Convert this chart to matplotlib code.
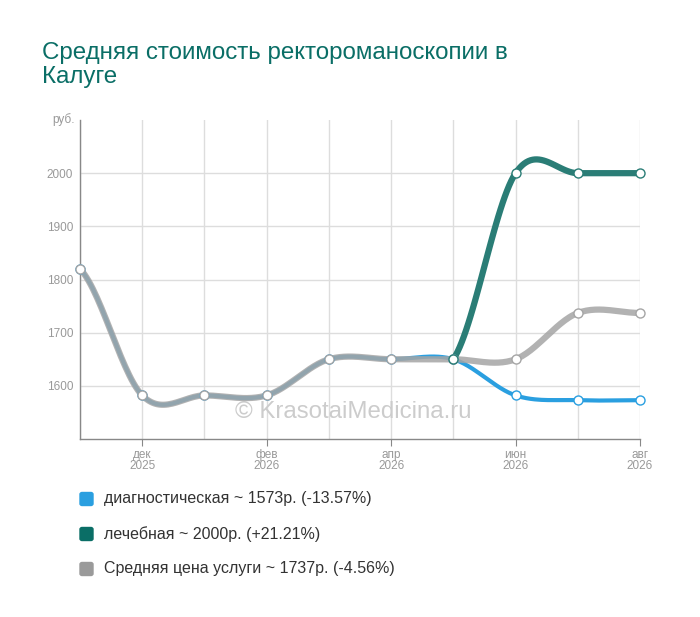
import numpy as np
import matplotlib.pyplot as plt
from matplotlib.patches import FancyBboxPatch

plt.rcParams["font.family"] = ["Liberation Sans", "DejaVu Sans"]

# months from Nov 2025 to Aug 2026
month_labels = ["", "дек\n2025", "", "фев\n2026", "", "апр\n2026", "", "июн\n2026", "", "авг\n2026"]
diag = [1820, 1582, 1582, 1582, 1650, 1650, 1650, 1582, 1573, 1573]
treat = [None, None, None, None, None, None, 1650, 2000, 2000, 2000]
avg = [1820, 1582, 1582, 1582, 1650, 1650, 1650, 1650, 1737, 1737]

legend_labels = [
    "диагностическая ~ 1573р. (-13.57%)",
    "лечебная ~ 2000р. (+21.21%)",
    "Средняя цена услуги ~ 1737р. (-4.56%)",
]
colors = ["#2a9fe0", "#0a6e66", "#9a9a9a"]
y_ticks = [1600, 1700, 1800, 1900, 2000]


def catmull_rom(xs, ys, n=30):
    """Smooth curve through the points (Catmull-Rom)."""
    xs = np.asarray(xs, float)
    ys = np.asarray(ys, float)
    px = np.concatenate([[2 * xs[0] - xs[1]], xs, [2 * xs[-1] - xs[-2]]])
    py = np.concatenate([[ys[0]], ys, [ys[-1]]])
    out_x, out_y = [], []
    t = np.linspace(0, 1, n)
    for i in range(1, len(px) - 2):
        for p, out in ((px, out_x), (py, out_y)):
            p0, p1, p2, p3 = p[i - 1], p[i], p[i + 1], p[i + 2]
            out.extend(
                0.5 * ((2 * p1) + (-p0 + p2) * t
                       + (2 * p0 - 5 * p1 + 4 * p2 - p3) * t ** 2
                       + (-p0 + 3 * p1 - 3 * p2 + p3) * t ** 3)
            )
    return np.array(out_x), np.array(out_y)


fig = plt.figure(figsize=(7, 6.17), dpi=100)
ax = fig.add_axes([0.1143, 0.2885, 0.8, 0.517])

line_colors = ["#2a9fe0", "#2a7d76", "#a5a5a5"]
series = [(diag, 0, 3.0, 1.0), (avg, 2, 4.5, 0.85), (treat, 1, 4.5, 1.0)]
for vals, ci, lw, alpha in series:
    idx = [i for i, v in enumerate(vals) if v is not None]
    yv = [vals[i] for i in idx]
    sx, sy = catmull_rom(idx, yv)
    ax.plot(sx, sy, color=line_colors[ci], lw=lw, alpha=alpha,
            solid_capstyle="round", zorder=3)
    ax.plot(idx, yv, "o", ms=6.5, mfc="white", mec=line_colors[ci], mew=1.0,
            zorder=4, clip_on=False)

ax.set_xlim(0, len(month_labels) - 1)
ax.set_ylim(1500, 2100)
ax.set_xticks(range(len(month_labels)))
ax.set_xticklabels(month_labels, fontsize=8.5, color="#999999", linespacing=0.95)
ax.set_yticks(y_ticks)
ax.set_yticklabels([str(v) for v in y_ticks], fontsize=8.5, color="#999999")
ax.tick_params(axis="x", length=5, color="#888888", pad=2)
ax.tick_params(axis="y", length=0, pad=5)
for lbl, tk in zip(month_labels, ax.xaxis.get_major_ticks()):
    if not lbl:
        tk.tick1line.set_visible(False)

ax.grid(True, color="#dddddd", lw=1, zorder=0)
for side in ("top", "right"):
    ax.spines[side].set_visible(False)
for side in ("left", "bottom"):
    ax.spines[side].set_color("#888888")
    ax.spines[side].set_linewidth(1)

ax.text(-0.01, 1.0, "руб.", transform=ax.transAxes, ha="right", va="center",
        fontsize=8.5, color="#999999")
ax.text(0.488, 0.085, "© KrasotaiMedicina.ru", transform=ax.transAxes, ha="center",
        va="center", fontsize=17.3, color="#cccccc", zorder=2)

fig.text(0.06, 1 - 65 / 617, "Средняя стоимость ректороманоскопии в\nКалуге", ha="left",
         va="center", fontsize=17.4, color="#0a6e66", linespacing=1.12)

for k, (lab, col) in enumerate(zip(legend_labels, colors)):
    yy = 1 - (499 + 35 * k) / 617
    fig.patches.append(FancyBboxPatch((80 / 700, yy - 6.5 / 617), 13 / 700, 13 / 617,
                                      boxstyle="round,pad=0,rounding_size=0.003",
                                      transform=fig.transFigure, color=col))
    fig.text(104 / 700, yy, lab, ha="left", va="center", fontsize=11.5, color="#333333")

fig.savefig("out.png", dpi=100)
